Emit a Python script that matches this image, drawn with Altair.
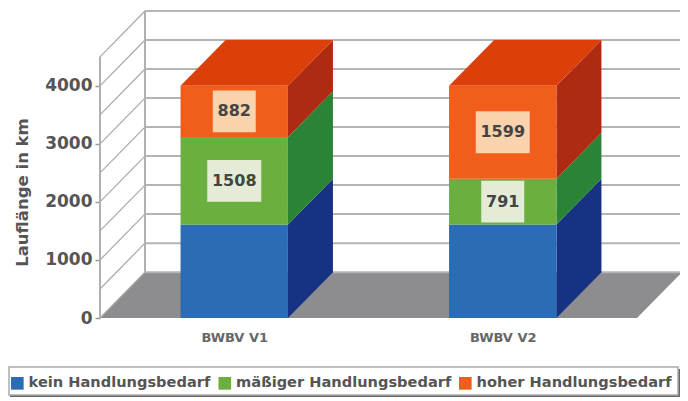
import altair as alt
import pandas as pd

categories = ["BWBV V1", "BWBV V2"]
statuses = ["kein Handlungsbedarf", "mäßiger Handlungsbedarf", "hoher Handlungsbedarf"]
values_v1 = [1610, 1508, 882]
values_v2 = [1610, 791, 1599]
front_colors = ["#2A6DB4", "#6BAF3E", "#F15D1B"]
side_colors = ["#173282", "#2B8436", "#AE2A10"]
top_color = "#DD3F0B"
box_colors = [None, "#E4ECD8", "#FAD2AC"]
y_ticks = [0, 1000, 2000, 3000, 4000]
grid_levels = [0, 500, 1000, 1500, 2000, 2500, 3000, 3500, 4000, 4500]

# 3D depth expressed in data units of both scales
DX = 0.1676
DY = 790
BAR_HALF = 0.2
X_END = 580 / 268.5
xs = alt.Scale(domain=[0, X_END], nice=False, zero=False)
ys = alt.Scale(domain=[0, 4500 + DY], nice=False, zero=False)
TXT = "#555555"
FONT = "DejaVu Sans"


def X(f, **k):
    return alt.X(f, type="quantitative", scale=xs, axis=k.pop("axis", None), **k)


def Y(f, **k):
    return alt.Y(f, type="quantitative", scale=ys, axis=k.pop("axis", None), **k)


front, side, top, boxes = [], [], [], []
for i, (cat, vals) in enumerate(zip(categories, [values_v1, values_v2])):
    c = i + 0.5
    base = 0
    for j, (s, v) in enumerate(zip(statuses, vals)):
        t = base + v
        front.append(dict(status=s, x=c - BAR_HALF, x2=c + BAR_HALF, y=base, y2=t))
        for u, (ox, oy) in enumerate([(0, 0), (DX, DY)]):
            side.append(dict(face=f"{i}-{j}", fill=side_colors[j],
                             x=c + BAR_HALF + ox, y=base + oy, y2=t + oy))
        if box_colors[j]:
            half = (27 if v >= 1000 else 21.5) / 268.5
            boxes.append(dict(x=c - half, x2=c + half, y=(base + t) / 2 - 360, y2=(base + t) / 2 + 360,
                              ym=(base + t) / 2, label=str(v), fill=box_colors[j]))
        base = t
    for ox, oy in [(0, 0), (DX, DY)]:
        top.append(dict(face=str(i), y=base + oy, x=c - BAR_HALF + ox, x2=c + BAR_HALF + ox))

grid_back = pd.DataFrame([dict(y=g + DY, x=DX, x2=X_END) for g in grid_levels])
grid_side = pd.DataFrame([dict(level=g, x=px, y=g + py) for g in grid_levels for px, py in [(0, 0), (DX, DY)]])
verticals = pd.DataFrame([
    dict(x=0, y=0, y2=4500), dict(x=DX, y=DY, y2=4500 + DY),
])
floor = pd.DataFrame([dict(y=0, x=0, x2=2), dict(y=DY, x=DX, x2=2 + DX)])

label_map = " : ".join(f"datum.value == {i + 0.5} ? '{c}'" for i, c in enumerate(categories)) + " : ''"

axes_layer = alt.Chart(floor).mark_area(orient="horizontal", color="#8D8D90", clip=True).encode(
    y=Y("y", axis=alt.Axis(values=y_ticks, format="d", title="Lauflänge in km", titleFont=FONT, titleFontSize=16.5,
                           titleFontWeight="bold", titleColor=TXT, titleX=-70, titleY=181,
                           labelFont=FONT, labelFontSize=17, labelFontWeight="bold", labelColor=TXT,
                           labelPadding=3, tickSize=5, tickColor="#999999", tickWidth=1.5,
                           domain=False, grid=False)),
    x=X("x", axis=alt.Axis(values=[0.5, 1.5], title=None, labelExpr=label_map, labelFont=FONT, labelFontSize=13,
                           labelFontWeight="bold", labelColor="#666666", ticks=False, domain=False,
                           labelPadding=13, grid=False)),
    x2="x2:Q",
)

layers = [
    axes_layer,
    alt.Chart(grid_back).mark_rule(color="#B4B4B4", strokeWidth=2).encode(x=X("x"), x2="x2:Q", y=Y("y")),
    alt.Chart(grid_side).mark_line(color="#A8A8A8", strokeWidth=1.2).encode(x=X("x"), y=Y("y"), detail="level:N"),
    alt.Chart(verticals).mark_rule(color="#B0B0B0", strokeWidth=2).encode(x=X("x"), y=Y("y"), y2="y2:Q"),
    alt.Chart(pd.DataFrame(side)).mark_area(orient="vertical").encode(
        x=X("x"), y=Y("y"), y2="y2:Q", color=alt.Color("fill:N", scale=None), detail="face:N"),
    alt.Chart(pd.DataFrame(top)).mark_area(orient="horizontal", color=top_color).encode(
        y=Y("y"), x=X("x"), x2="x2:Q", detail="face:N"),
    alt.Chart(pd.DataFrame(front)).mark_rect().encode(
        x=X("x"), x2="x2:Q", y=Y("y"), y2="y2:Q",
        fill=alt.Fill("status:N", scale=alt.Scale(domain=statuses, range=front_colors),
                      legend=alt.Legend(orient="none", legendX=-90, legendY=365, direction="horizontal",
                                        columns=3, title=None, symbolType="square", symbolSize=160,
                                        symbolStrokeWidth=0, labelFont=FONT, labelFontSize=14.6,
                                        labelFontWeight="bold", labelColor=TXT, labelOffset=4,
                                        columnPadding=6.5, labelLimit=260))),
    alt.Chart(pd.DataFrame(boxes)).mark_rect().encode(
        x=X("x"), x2="x2:Q", y=Y("y"), y2="y2:Q", color=alt.Color("fill:N", scale=None)),
    alt.Chart(pd.DataFrame(boxes)).mark_text(font=FONT, fontSize=16, fontWeight="bold", color="#444444").transform_calculate(
        xm="(datum.x + datum.x2) / 2").encode(x=X("xm"), y=Y("ym"), text="label:N"),
    alt.Chart(pd.DataFrame({"a": [0]})).mark_rect(color="#666666").encode(
        x=alt.value(-90), x2=alt.value(580), y=alt.value(358), y2=alt.value(386)),
    alt.Chart(pd.DataFrame({"a": [0]})).mark_rect(color="#FFFFFF", stroke="#AAAAAA", strokeWidth=1.5).encode(
        x=alt.value(-91), x2=alt.value(578), y=alt.value(356), y2=alt.value(384)),
]

chart = alt.layer(*layers).resolve_scale(color="independent").resolve_axis(x="independent", y="independent").properties(
    width=580, height=307,
    autosize=alt.AutoSizeParams(type="none"),
    padding={"left": 92, "top": 3, "right": 0, "bottom": 80},
).configure_view(stroke=None)

chart.save("out.html", embed_options={"renderer": "svg", "actions": False})
